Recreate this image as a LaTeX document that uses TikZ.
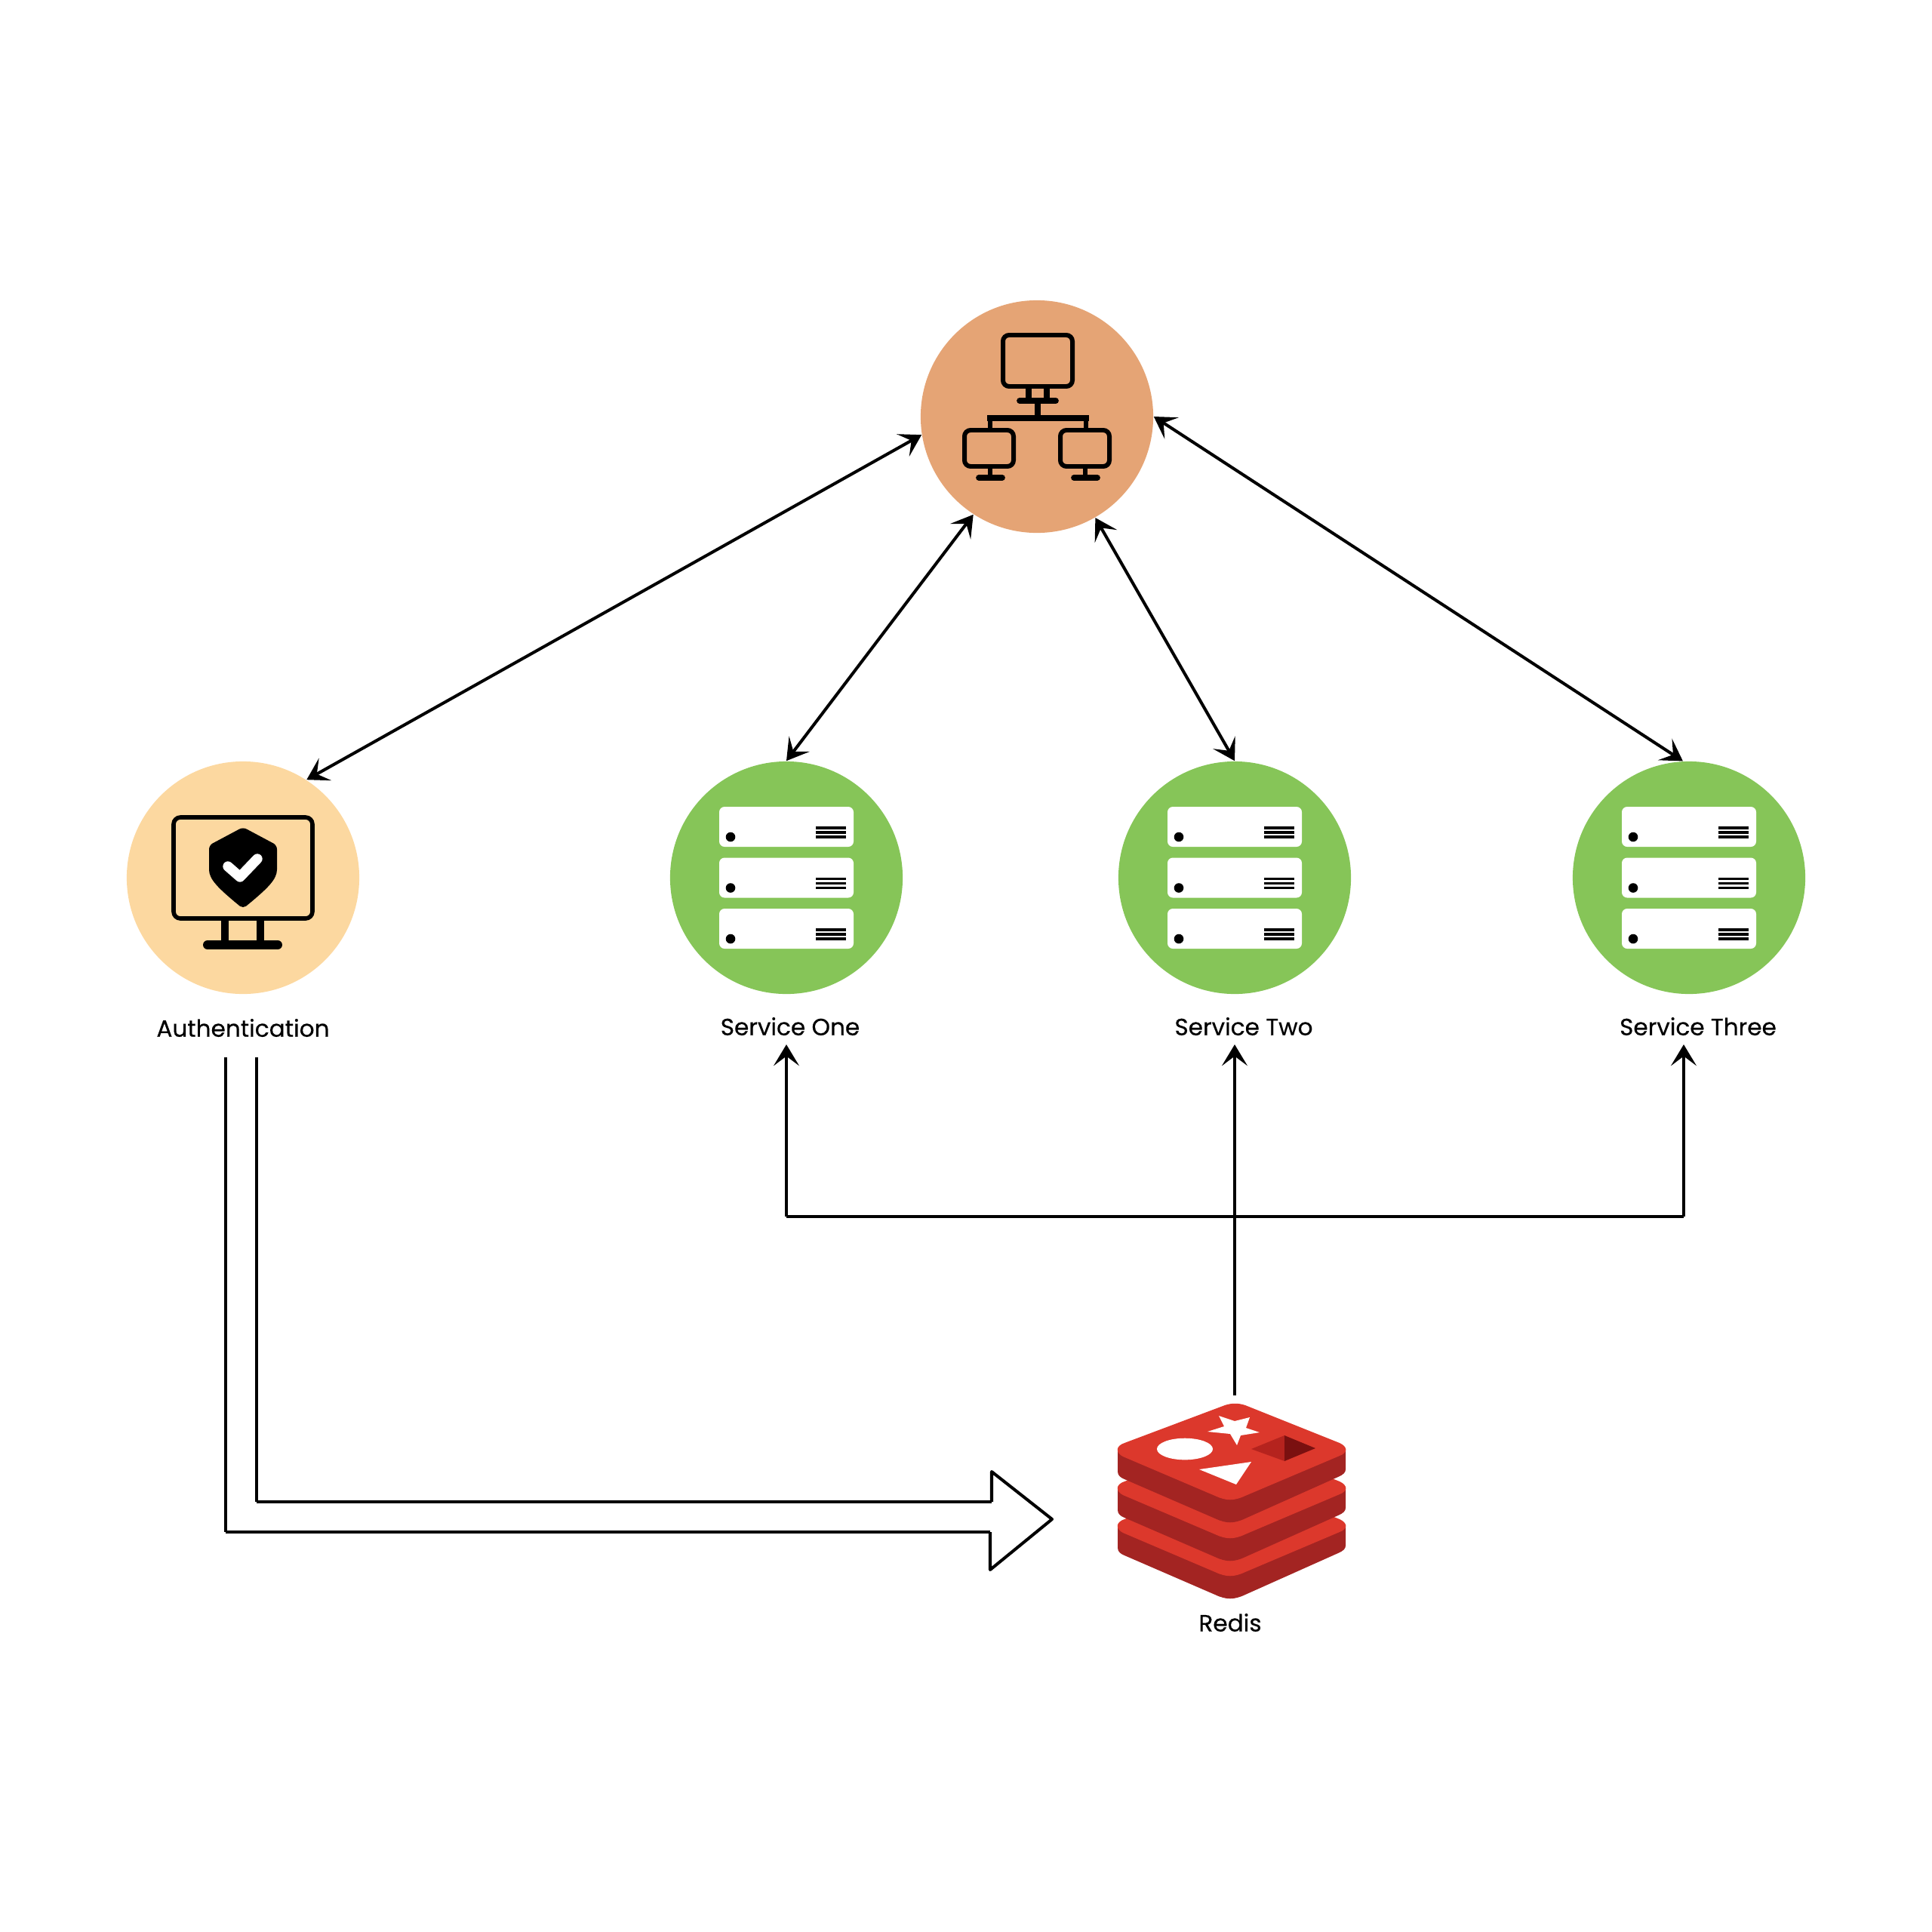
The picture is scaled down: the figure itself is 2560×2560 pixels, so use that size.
\documentclass[tikz,border=0pt]{standalone}
\usepackage{fontspec}
\setmainfont{Poppins}[FakeBold=0.4]
\usepackage{tikz}
\usetikzlibrary{arrows.meta,positioning}
\definecolor{hubcol}{HTML}{E5A475}
\definecolor{authcol}{HTML}{FCD8A0}
\definecolor{svccol}{HTML}{86C558}
\definecolor{redislight}{HTML}{DC382C}
\definecolor{redisdark}{HTML}{A32422}
\definecolor{redismid}{HTML}{B5231E}
\definecolor{redisdeep}{HTML}{7A1010}
% one layer of the stack, #1 = offset in y
\newcommand{\redislayer}[1]{
    \begin{scope}[yshift=-#1*0.01cm]
    \fill[redisdark] (1481,1920) -- (1481,1950) .. controls (1481,1955) and (1485,1958) .. (1490,1960)
        -- (1610,2012) .. controls (1625,2019) and (1635,2019) .. (1650,2012)
        -- (1773,1957) .. controls (1780,1954) and (1783,1951) .. (1783,1947) -- (1783,1920) -- cycle;
    \fill[redislight] (1623,1862) .. controls (1632,1859) and (1641,1859) .. (1650,1862)
        -- (1775,1912) .. controls (1786,1917) and (1786,1925) .. (1775,1929)
        -- (1650,1982) .. controls (1635,1989) and (1625,1989) .. (1610,1982)
        -- (1488,1930) .. controls (1478,1925) and (1478,1916) .. (1490,1912) -- cycle;
    \end{scope}
}
\begin{document}
\begin{tikzpicture}[
x=0.01cm,y=-0.01cm,
font=\fontsize{8.85}{10}\selectfont,
>={Stealth[length=8pt,width=9.6pt,inset=3.6pt]},
bubble/.style={circle,inner sep=0pt,minimum size=3.08cm},
link/.style={<->,line width=1.15pt},
uplink/.style={->,line width=1.15pt},
plainlink/.style={line width=1.15pt,line cap=square},
icon/.style={line width=1.7pt,rounded corners=2.3pt},
bar/.style={line width=2.2pt,line cap=round}]
    \useasboundingbox (0,0) rectangle (2560,2560);

    % Circles
    \node[bubble,fill=hubcol] (hub) at (1374,552) {};
    \node[bubble,fill=authcol] (auth) at (322,1163) {};
    \node[bubble,fill=svccol] (one) at (1042,1163) {};
    \node[bubble,fill=svccol] (two) at (1636,1163) {};
    \node[bubble,fill=svccol] (three) at (2238,1163) {};

    % Labels
    \node (authlabel) at (322,1362) {Authentication};
    \node (onelabel) at (1047,1360) {Service One};
    \node (twolabel) at (1648,1360) {Service Two};
    \node (threelabel) at (2250,1360) {Service Three};
    \node (redislabel) at (1630,2150) {Redis};

    % Double arrows to the hub
    \draw[link] (auth.57) -- (hub.189);
    \draw[link] (one.north) -- (hub.237);
    \draw[link] (two.north) -- (hub.300);
    \draw[link] (three.93) -- (hub.east);

    % Redis to the services
    \draw
    (1636,1849) coordinate (redistop)
    (1636,1384) coordinate (twotip)
    (1042,1612) coordinate (busleft)
    (2231,1612) coordinate (busright)
    (1042,1384) coordinate (onetip)
    (2231,1384) coordinate (threetip);
    \draw[uplink] (redistop) -- (twotip);
    \draw[plainlink] (busleft) -- (busright);
    \draw[uplink] (busleft) -- (onetip);
    \draw[uplink] (busright) -- (threetip);

    % Hollow arrow
    \draw
    (340,1401) coordinate (innertop)
    (340,1990) coordinate (innercorner)
    (1314,1990) coordinate (stemupper)
    (1314,1950) coordinate (headupper)
    (1394,2013) coordinate (headtip)
    (1312,2080) coordinate (headlower)
    (1312,2030) coordinate (stemlower)
    (299,2030) coordinate (outercorner)
    (299,1401) coordinate (outertop);
    \draw[line width=1.15pt] (innertop) -- (innercorner);
    \draw[line width=1.15pt] (outertop) -- (outercorner);
    \draw[plainlink] (innercorner) -- (stemupper);
    \draw[plainlink] (outercorner) -- (stemlower);
    \draw[plainlink,line join=round] (stemupper) -- (headupper) -- (headtip) -- (headlower) -- (stemlower);

    % Hub icon
    \draw[icon] (1329,444) rectangle (1421,512);
    \draw[icon] (1278,570) rectangle (1343,618);
    \draw[icon] (1405,570) rectangle (1470,618);
    \draw[line width=2pt] (1363,512) -- (1363,531) (1387,512) -- (1387,531);
    \draw[line width=2pt] (1375,531) -- (1375,554);
    \draw[line width=2.2pt] (1308,554) -- (1443,554);
    \draw[line width=1.9pt] (1312,554) -- (1312,570) (1439,554) -- (1439,570);
    \draw[line width=1.9pt] (1312,618) -- (1312,633) (1438,618) -- (1438,633);
    \draw[bar] (1351,531) -- (1399,531);
    \draw[bar] (1297,633) -- (1328,633);
    \draw[bar] (1423,633) -- (1454,633);

    % Auth icon
    \draw[line width=1.6pt,rounded corners=2.6pt] (230,1083) rectangle (414,1217);
    \draw[line width=3pt] (298,1217) -- (298,1252) (345,1217) -- (345,1252);
    \draw[line width=3.4pt,line cap=round] (275,1252) -- (368,1252);
    \fill[rounded corners=1.5pt] (322,1096) -- (367,1120) -- (367,1147)
        .. controls (367,1165) and (355,1177) .. (322,1204)
        .. controls (289,1177) and (277,1165) .. (277,1147) -- (277,1120) -- cycle;
    \draw[white,line width=3.8pt,line cap=round,line join=round] (302,1148) -- (318,1162) -- (341,1138);

    % Server icons
    \foreach \svc in {one,two,three} {
        \begin{scope}[shift={(\svc.center)}]
        \foreach \dy in {-67.5,0,67.5} {
            \fill[white,rounded corners=2pt] (-89,\dy-26.5) rectangle (89,\dy+26.5);
            \fill (-74,\dy+13.5) circle (6.3);
            \draw[line width=1pt] (39,\dy+1.5) -- (79,\dy+1.5) (39,\dy+7.5) -- (79,\dy+7.5) (39,\dy+13.5) -- (79,\dy+13.5);
        }
        \end{scope}
    }

    % Redis logo
    \redislayer{101}
    \redislayer{51}
    \redislayer{0}
    \fill[white] (1615,1876) -- (1636,1883) -- (1656,1878) -- (1651,1892) -- (1669,1898)
        -- (1644,1902) -- (1639,1915) -- (1630,1900) -- (1600,1897) -- (1622,1890) -- cycle;
    \fill[white] (1570,1920) ellipse (37 and 14.3);
    \fill[white] (1589,1947) -- (1658,1937) -- (1638,1967) -- cycle;
    \fill[redismid] (1658,1920) -- (1702,1902) -- (1702,1936) -- cycle;
    \fill[redisdeep] (1702,1902) -- (1743,1919) -- (1702,1936) -- cycle;
\end{tikzpicture}
\end{document}
